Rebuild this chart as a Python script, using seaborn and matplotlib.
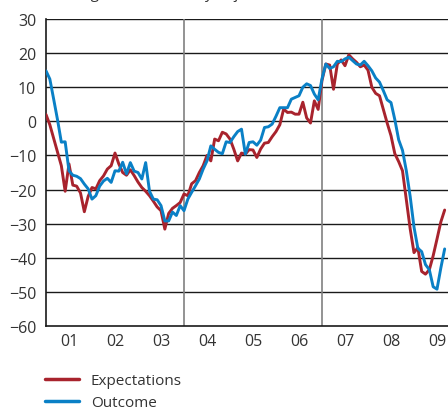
import numpy as np
import pandas as pd
import matplotlib
matplotlib.use('Agg')
import matplotlib.pyplot as plt
from matplotlib.lines import Line2D
import seaborn as sns

# Monthly net figures, Jan 2001 - Sep 2009
expectations = [2, -1, -5, -9, -13, -20.5, -12.5, -18.7, -19, -21, -26.5, -22,
                -19.4, -19.8, -17.4, -16, -14, -13, -9.3, -12.5, -15, -15.8, -14.2, -15.9,
                -17.8, -19.4, -20.5, -21.8, -23.4, -25.1, -26.2, -31.6, -27, -25.5, -24.7, -23.8,
                -21.3, -21.8, -18.3, -17.4, -15, -13, -10, -11.6, -5.2, -5.7, -3.2, -3.7,
                -5.2, -8.2, -11.6, -9.3, -9.6, -8.3, -8.4, -10.6, -8.1, -6.4, -6.2, -4.5,
                -3.0, -1.0, 3.6, 2.6, 2.7, 2.1, 2.1, 5.6, 1.0, -0.5, 6.0, 3.5,
                12, 16.8, 16.5, 9.4, 16.8, 18, 16.3, 19.5, 18.3, 17.3, 16, 16.5,
                15, 10, 8.2, 7.5, 3.5, -0.5, -4.2, -9.5, -11.8, -14.5, -23, -31.5,
                -38.5, -37, -44, -44.8, -43.5, -39.4, -34.5, -29.5, -26]
outcome = [14.8, 12.4, 6.5, 0.5, -6.1, -6, -14.5, -15.8, -16.1, -16.8, -18.4, -19.8,
           -22.8, -21.8, -19, -17.5, -16.7, -17.9, -14.5, -14.6, -12, -15.4, -12.1, -14.6,
           -15, -16.9, -12.1, -20.5, -22.8, -23, -24.7, -29.2, -29.2, -26.6, -27.6, -24.7,
           -26.2, -22.8, -20.8, -18.9, -16.9, -14, -11.6, -7.2, -8.2, -9.1, -9.5, -6,
           -6.2, -4.5, -3, -2.3, -9.6, -6.2, -6, -7, -5.5, -1.8, -1.6, -0.8,
           1.5, 4, 4, 4, 6.5, 7, 7.5, 10, 11, 10.5, 8, 6.3,
           12.5, 16.8, 15.5, 16, 17.6, 17.5, 18.3, 18.8, 17.8, 16.8, 16.5, 17.6,
           16.3, 14.8, 12.7, 11.5, 9, 6.3, 5.5, 0.5, -5.4, -8.5, -14.5, -22,
           -31, -37.2, -38.2, -42, -43.5, -48.5, -49.2, -43, -37.4]
year_labels = ['01', '02', '03', '04', '05', '06', '07', '08', '09']
start_year = 2001

n = len(expectations)
t = start_year + np.arange(n) / 12
df = pd.DataFrame({
    't': np.concatenate([t, t]),
    'value': expectations + outcome,
    'series': ['Expectations'] * n + ['Outcome'] * n,
})

sns.set_style('white')
plt.rcParams['font.family'] = ['Open Sans', 'DejaVu Sans']

colors = {'Expectations': '#a8232d', 'Outcome': '#0a80c6'}

fig = plt.figure(figsize=(4.48, 4.10), dpi=100)
ax = fig.add_axes([46 / 448, 83 / 410, 1 - 46 / 448, 307 / 410])

for y in range(-50, 31, 10):
    ax.axhline(y, color='#1a1a1a', lw=1.0, zorder=1)
for yr in (2004, 2007):
    ax.axvline(yr, color='#808080', lw=1.2, zorder=1)

sns.lineplot(data=df, x='t', y='value', hue='series', palette=colors,
             linewidth=2.1, ax=ax, legend=False, zorder=3)

ax.set_xlim(start_year, start_year + 402 / 46)
ax.set_ylim(-60, 30)
ax.set_xlabel('')
ax.set_ylabel('')

ax.set_yticks(range(-60, 31, 10))
ax.tick_params(axis='y', length=0, pad=7, labelsize=11.5, labelcolor='#333333')

ax.set_xticks(range(2002, 2010))
ax.set_xticklabels([])
ax.set_xticks([start_year + i + 0.5 for i in range(len(year_labels))], minor=True)
ax.set_xticklabels(year_labels, minor=True)
ax.tick_params(axis='x', which='major', direction='in', length=6.5, width=1.2, color='#666666')
ax.tick_params(axis='x', which='minor', length=0, pad=5, labelsize=11.5, labelcolor='#333333')

for side in ('top', 'right'):
    ax.spines[side].set_visible(False)
for side in ('left', 'bottom'):
    ax.spines[side].set_color('#1a1a1a')
    ax.spines[side].set_linewidth(1.2)

# subtitle sits above the cropped top edge, only its descenders show
fig.text(52 / 448, 1 - 1.5 / 410, 'Net figures, seasonally adjusted', fontsize=11,
         color='#333333', va='bottom', ha='left')

handles = [Line2D([], [], color=colors[k], lw=2.5) for k in ('Expectations', 'Outcome')]
fig.legend(handles, ['Expectations', 'Outcome'], loc='upper left',
           bbox_to_anchor=(45 / 448, 1 - 374 / 410), frameon=False, fontsize=11,
           handlelength=2.2, handletextpad=0.8, labelspacing=0.45,
           borderaxespad=0, borderpad=0, labelcolor='#333333')

fig.savefig('out.png', dpi=100)
